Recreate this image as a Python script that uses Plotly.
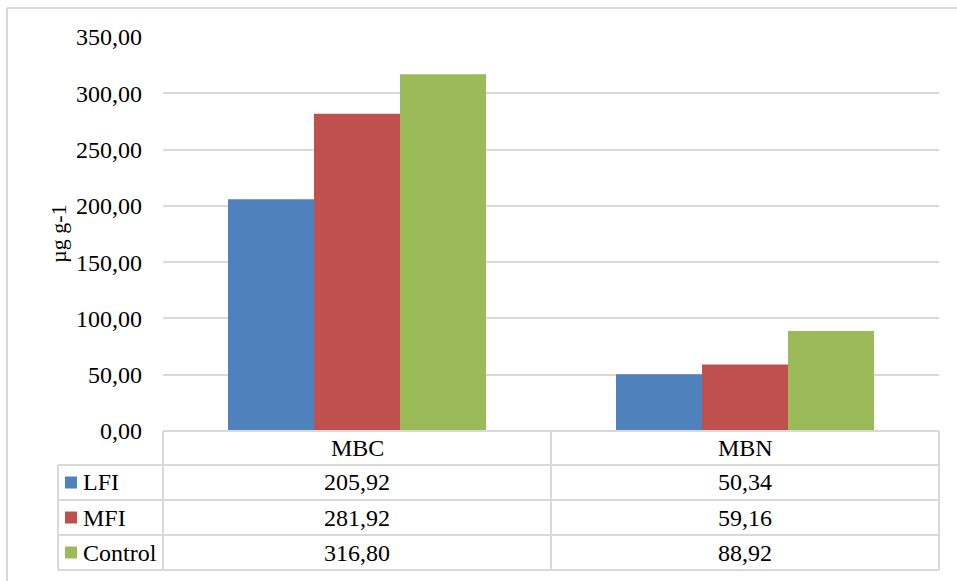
import plotly.graph_objects as go

categories = ["MBC", "MBN"]
series_names = ["LFI", "MFI", "Control"]
lfi = [205.92, 50.34]
mfi = [281.92, 59.16]
control = [316.80, 88.92]
y_ticks = [0, 50, 100, 150, 200, 250, 300, 350]
y_title = "µg g-1"

colors = ["#4F81BD", "#C0504D", "#9BBB59"]
values = [lfi, mfi, control]

W, H = 957, 581
L, R, T, B = 163, 939, 37, 431
FONT = "Liberation Serif"
GRID = "#d9d9d9"
FS = 24


def px_x(p):
    return (p - L) / (R - L)


def px_y(p):
    return (B - p) / (B - T)


fig = go.Figure()
for name, vals, col in zip(series_names, values, colors):
    fig.add_trace(go.Bar(x=categories, y=vals, name=name,
                         marker=dict(color=col, line=dict(width=0)),
                         showlegend=False))

shapes = []
annotations = []


def line(x0, y0, x1, y1):
    shapes.append(dict(type="line", xref="paper", yref="paper",
                       x0=px_x(x0), y0=px_y(y0), x1=px_x(x1), y1=px_y(y1),
                       line=dict(color=GRID, width=2)))


def fmt(v):
    return f"{v:.2f}".replace(".", ",")


# outer chart border (partly outside the picture)
line(7, 8, 7, 600)
line(7, 8, 980, 8)

# data table grid
row_lines = [431, 465, 500, 535, 570]
col_lines = [163, 551, 939]
legend_left = 58
line(L, 431, R, 431)
for yy in row_lines[1:]:
    line(legend_left, yy, R, yy)
for xx in col_lines:
    line(xx, 431, xx, 570)
line(legend_left, 465, legend_left, 570)

# header row (category names)
col_centers = [(col_lines[i] + col_lines[i + 1]) / 2 for i in range(len(categories))]
for cx, cat in zip(col_centers, categories):
    annotations.append(dict(text=cat, xref="paper", yref="paper",
                            x=px_x(cx), y=px_y(448), showarrow=False,
                            xanchor="center", yanchor="middle",
                            font=dict(family=FONT, size=FS, color="black")))

# series rows
for i, (name, vals, col) in enumerate(zip(series_names, values, colors)):
    yc = (row_lines[i + 1] + row_lines[i + 2]) / 2
    shapes.append(dict(type="rect", xref="paper", yref="paper",
                       x0=px_x(65), x1=px_x(77), y0=px_y(yc - 6), y1=px_y(yc + 6),
                       fillcolor=col, line=dict(width=0)))
    annotations.append(dict(text=name, xref="paper", yref="paper",
                            x=px_x(81), y=px_y(yc), showarrow=False,
                            xanchor="left", yanchor="middle",
                            font=dict(family=FONT, size=FS, color="black")))
    for cx, v in zip(col_centers, vals):
        annotations.append(dict(text=fmt(v), xref="paper", yref="paper",
                                x=px_x(cx), y=px_y(yc), showarrow=False,
                                xanchor="center", yanchor="middle",
                                font=dict(family=FONT, size=FS, color="black")))

# y-axis title
annotations.append(dict(text=y_title, xref="paper", yref="paper",
                        x=px_x(58), y=px_y(234), showarrow=False, textangle=-90,
                        xanchor="center", yanchor="middle",
                        font=dict(family=FONT, size=22, color="black")))

fig.update_layout(
    width=W, height=H,
    margin=dict(l=L, r=W - R, t=T, b=H - B, pad=0),
    paper_bgcolor="white", plot_bgcolor="white",
    barmode="group", bargap=0.335, bargroupgap=0,
    separators=",.",
    font=dict(family=FONT, color="black"),
    shapes=shapes, annotations=annotations,
    xaxis=dict(showticklabels=False, showgrid=False, zeroline=False,
               showline=False, ticks=""),
    yaxis=dict(range=[0, 350], tickvals=y_ticks, tickformat=".2f",
               showgrid=True, gridcolor=GRID, gridwidth=2,
               zeroline=False, showline=False, ticks="",
               ticklabelstandoff=20,
               tickfont=dict(family=FONT, size=FS, color="black")),
)

fig.write_html("out.html")
